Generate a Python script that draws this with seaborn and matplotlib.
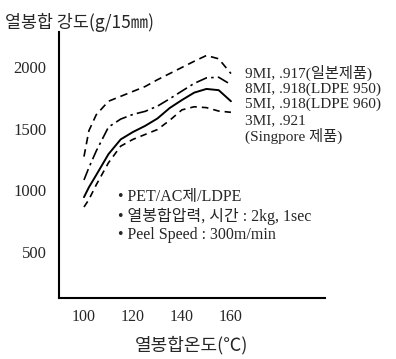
import matplotlib
matplotlib.use("Agg")
import matplotlib.pyplot as plt
import matplotlib.transforms as mtransforms
import seaborn as sns

# Heat-seal temperature (°C)
temps = [100, 102, 105, 110, 115, 120, 125, 130, 135, 140, 145, 150, 155, 160]

# Heat-seal strength (g/15mm) for each LDPE grade
mi9 = [1150, 1360, 1490, 1600, 1640, 1680, 1720, 1775, 1825, 1875, 1925, 1972, 1945, 1825]
mi8 = [960, 1060, 1195, 1390, 1455, 1493, 1518, 1560, 1620, 1683, 1745, 1790, 1795, 1735]
mi5 = [820, 900, 1000, 1170, 1290, 1350, 1400, 1460, 1545, 1610, 1670, 1700, 1690, 1600]
mi3 = [740, 800, 920, 1100, 1235, 1290, 1330, 1370, 1445, 1530, 1555, 1548, 1520, 1510]

legend_labels = ["9MI, .917(일본제품)", "8MI, .918(LDPE 950)", "5MI, .918(LDPE 960)",
                 "3MI, .921", "(Singpore 제품)"]
notes = ["• PET/AC제/LDPE", "• 열봉합압력, 시간 : 2kg, 1sec", "• Peel Speed : 300m/min"]

x_ticks = [100, 120, 140, 160]
y_ticks = [500, 1000, 1500, 2000]

sns.set_style("white")
serif = ["Liberation Serif", "Noto Sans CJK KR"]
sans = ["Noto Sans CJK KR", "DejaVu Sans"]
plt.rcParams["font.family"] = serif

W, H = 396, 359
fig = plt.figure(figsize=(W / 100, H / 100), dpi=100)
ax = fig.add_axes([59 / W, 1 - 298 / H, (325 - 59) / W, (298 - 32) / H])

styles = [
    (mi9, (0, (4.5, 3.0)), 1.2),
    (mi8, (0, (7.0, 2.5, 1.5, 2.5)), 1.2),
    (mi5, "-", 1.4),
    (mi3, (0, (4.0, 3.0)), 1.2),
]
for vals, ls, lw in styles:
    sns.lineplot(x=temps, y=vals, ax=ax, color="black", linestyle=ls, linewidth=lw)

ax.set_xlim(89.8, 198.4)
ax.set_ylim(0, 2163)
ax.set_xticks(x_ticks)
ax.set_yticks(y_ticks)
ax.set_xticklabels([str(t) for t in x_ticks], fontsize=11.5)
ax.set_yticklabels([str(t) for t in y_ticks], fontsize=12)
ax.tick_params(axis="both", direction="in", length=3, width=1, color="black")
ax.tick_params(axis="y", pad=9)
ax.tick_params(axis="x", pad=8)

# tick numbers on the value axis sit a little below their tick marks
shift = mtransforms.ScaledTranslation(0, -0.15, fig.dpi_scale_trans)
for lab in ax.get_yticklabels():
    lab.set_transform(lab.get_transform() + shift)

for side in ["top", "right"]:
    ax.spines[side].set_visible(False)
for side in ["left", "bottom"]:
    ax.spines[side].set_color("black")
    ax.spines[side].set_linewidth(1.5)

ax.set_xlabel("열봉합온도(℃)", fontsize=13, family=sans, labelpad=8)
fig.text(5 / W, 1 - 22 / H, "열봉합 강도(g/15㎜)", fontsize=12.5, family=sans,
         ha="left", va="center")

for i, txt in enumerate(legend_labels):
    fig.text(245 / W, 1 - (73 + 15.8 * i) / H, txt, fontsize=11, family=serif,
             ha="left", va="center")

for i, txt in enumerate(notes):
    fig.text(118 / W, 1 - (197 + 19 * i) / H, txt, fontsize=11.5, family=serif,
             ha="left", va="center")

fig.savefig("out.png", dpi=100, facecolor="white")
